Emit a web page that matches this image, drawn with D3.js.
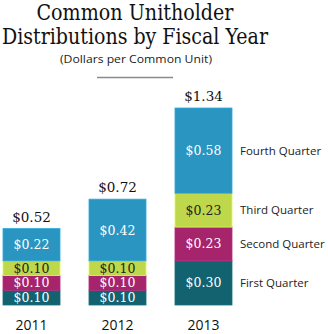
<!DOCTYPE html>
<html><head><meta charset="utf-8">
<script src="https://cdn.jsdelivr.net/npm/d3@7"></script>
<style>body{margin:0;background:#fff}svg{display:block}</style>
</head><body>
<script>
const years = ["2011", "2012", "2013"];
const quarters = ["First Quarter", "Second Quarter", "Third Quarter", "Fourth Quarter"];
const first = [0.10, 0.10, 0.30];
const second = [0.10, 0.10, 0.23];
const third = [0.10, 0.10, 0.23];
const fourth = [0.22, 0.42, 0.58];
const totals = ["$0.52", "$0.72", "$1.34"];
const colors = ["#13626f", "#a5246b", "#bfd84b", "#2a95c1"];
const labelColors = ["#fff", "#fff", "#222", "#fff"];

const W = 328, H = 334;
const svg = d3.select("body").append("svg").attr("width", W).attr("height", H);

const data = years.map((y, i) => ({year: y, q0: first[i], q1: second[i], q2: third[i], q3: fourth[i]}));
const stack = d3.stack().keys(["q0", "q1", "q2", "q3"])(data);

const x = d3.scaleBand().domain(years).range([3, 232]).paddingInner(0.337).paddingOuter(0);
const y = d3.scaleLinear().domain([0, 1.34]).range([305, 108]);

// Title
svg.append("text").attr("x", 135).attr("y", 20).attr("text-anchor", "middle")
  .attr("font-family", "DejaVu Serif").attr("font-size", 22.5).attr("fill", "#111")
  .attr("textLength", 197).attr("lengthAdjust", "spacingAndGlyphs").text("Common Unitholder");
svg.append("text").attr("x", 135).attr("y", 44).attr("text-anchor", "middle")
  .attr("font-family", "DejaVu Serif").attr("font-size", 22.5).attr("fill", "#111")
  .attr("textLength", 266).attr("lengthAdjust", "spacingAndGlyphs").text("Distributions by Fiscal Year");
svg.append("text").attr("x", 136).attr("y", 63).attr("text-anchor", "middle")
  .attr("font-family", "Open Sans").attr("font-size", 11.5).attr("fill", "#222")
  .attr("textLength", 152).attr("lengthAdjust", "spacingAndGlyphs").text("(Dollars per Common Unit)");
svg.append("line").attr("x1", 97).attr("x2", 173).attr("y1", 77.5).attr("y2", 77.5)
  .attr("stroke", "#8a8a8a").attr("stroke-width", 1.5);

// Bars
const g = svg.append("g");
stack.forEach((layer, k) => {
  layer.forEach((d, i) => {
    const x0 = x(d.data.year), bw = x.bandwidth();
    g.append("rect").attr("x", x0).attr("y", y(d[1])).attr("width", bw)
      .attr("height", y(d[0]) - y(d[1])).attr("fill", colors[k])
      .attr("stroke", d3.color(colors[k]).brighter(0.4)).attr("stroke-width", 0.8);
    const v = d[1] - d[0];
    g.append("text").attr("x", x0 + bw / 2).attr("y", (y(d[0]) + y(d[1])) / 2)
      .attr("dy", "0.36em").attr("text-anchor", "middle")
      .attr("font-family", "DejaVu Serif").attr("font-size", 12.5)
      .attr("fill", labelColors[k]).text("$" + v.toFixed(2));
  });
});

// Totals
years.forEach((yr, i) => {
  const top = first[i] + second[i] + third[i] + fourth[i];
  svg.append("text").attr("x", x(yr) + x.bandwidth() / 2).attr("y", y(top) - 7)
    .attr("text-anchor", "middle").attr("font-family", "DejaVu Serif").attr("font-size", 13.5)
    .attr("fill", "#111").text(totals[i]);
});

// Axis labels
const axis = d3.axisBottom(x).tickSize(0).tickPadding(0);
const ax = svg.append("g").attr("transform", "translate(0,320)").call(axis);
ax.select(".domain").remove();
ax.selectAll("text").attr("font-family", "Open Sans").attr("font-size", 14).attr("fill", "#111").attr("dy", "0.71em");

// Legend labels next to last bar
const last = stack.map(layer => layer[2]);
last.forEach((d, k) => {
  svg.append("text").attr("x", 240).attr("y", (y(d[0]) + y(d[1])) / 2).attr("dy", "0.36em")
    .attr("font-family", "Open Sans").attr("font-size", 11.5).attr("fill", "#222")
    .text(quarters[k]);
});
</script>
</body></html>
